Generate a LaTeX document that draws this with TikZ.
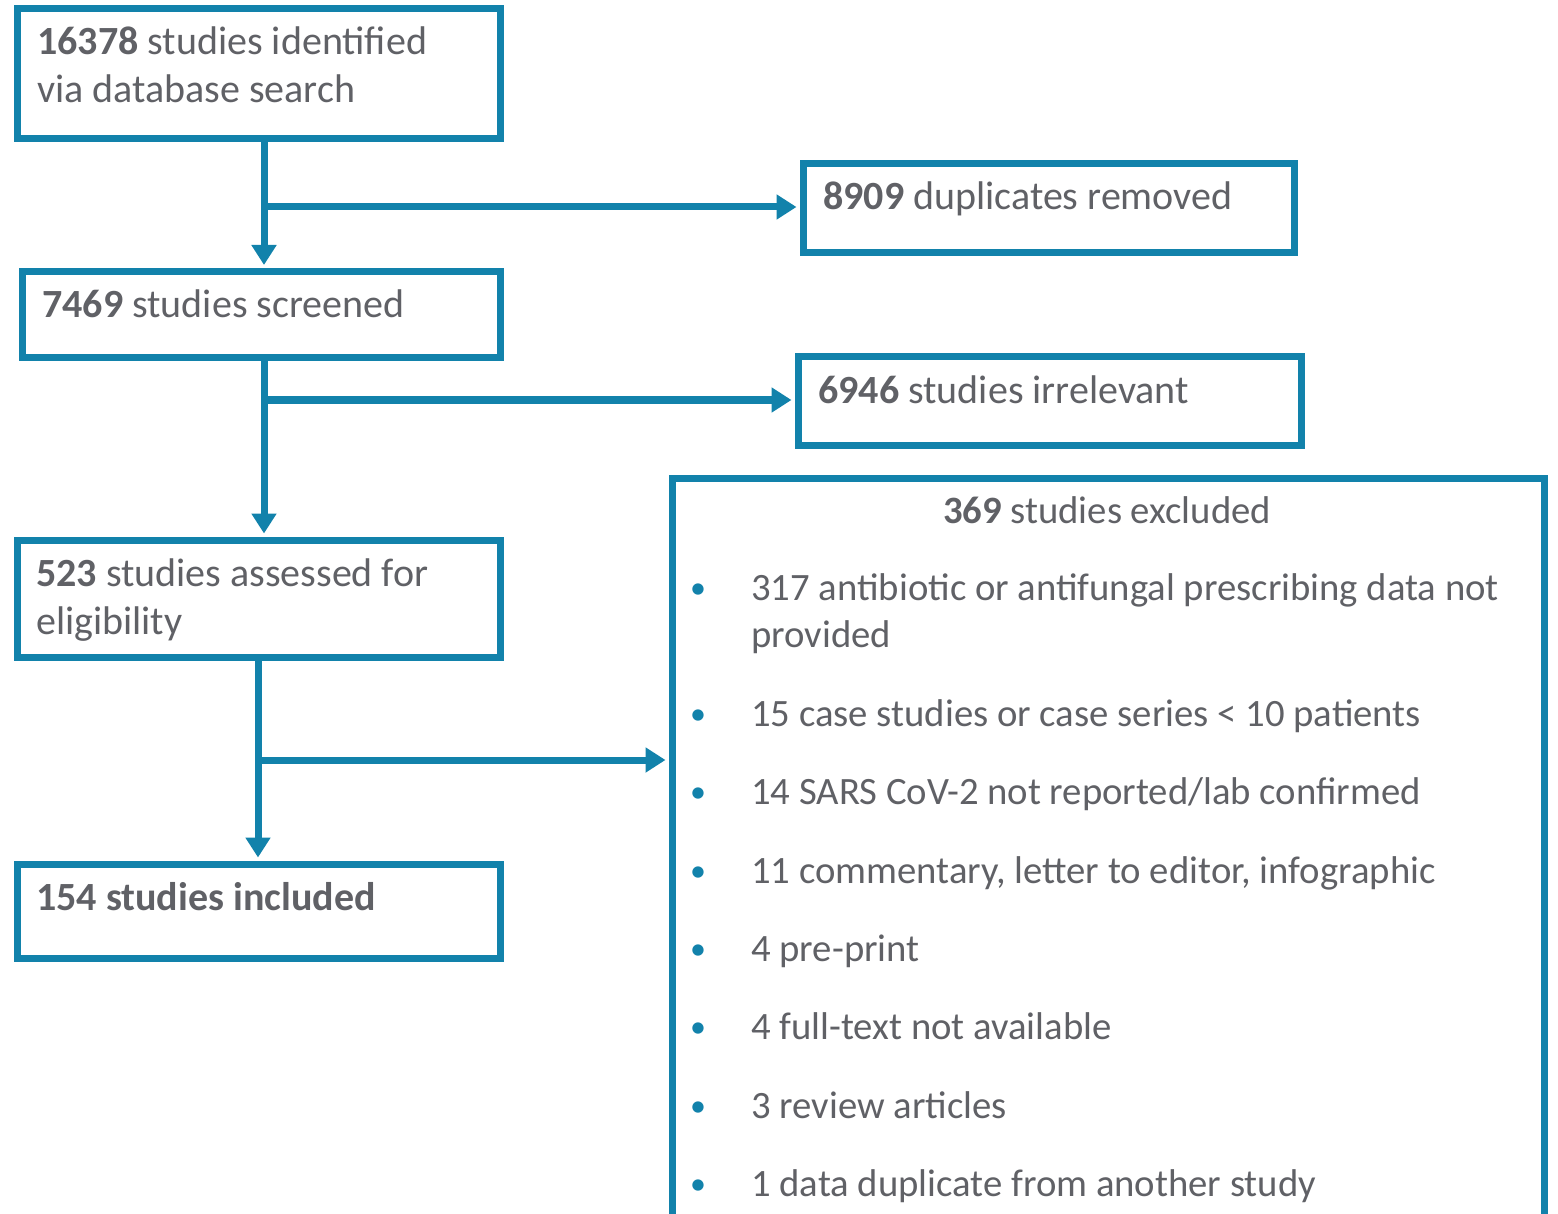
\documentclass[tikz,border=0pt]{standalone}
\usepackage{fontspec}
\setmainfont{Carlito}
\usetikzlibrary{arrows.meta}
\definecolor{flowblue}{HTML}{1282AB}
\definecolor{txtgray}{HTML}{606166}
\begin{document}
\begin{tikzpicture}[x=1pt,y=-1pt,
  box/.style={draw=flowblue, line width=7pt, inner sep=0pt, rectangle, fill=white},
  lbl/.style={anchor=base west, inner sep=0pt, text=txtgray, font=\fontsize{40}{48}\selectfont},
  item/.style={anchor=base west, inner sep=0pt, text=txtgray, font=\fontsize{38.7}{46}\selectfont},
  ctr/.style={anchor=base, inner sep=0pt, text=txtgray, font=\fontsize{38.7}{46}\selectfont},
  bul/.style={anchor=base, inner sep=0pt, text=flowblue, font=\fontsize{32}{38}\selectfont},
  arr/.style={draw=flowblue, line width=7pt, -{Triangle[length=20pt,width=24pt]}, shorten >=3pt}]
\useasboundingbox (0,0) rectangle (1558,1214);
\clip (0,0) rectangle (1558,1214);

% boxes
\node[box, minimum width=482.5pt, minimum height=130.5pt] (b1) at (258.75,73.75) {};
\node[box, minimum width=477.5pt, minimum height=86.5pt] (b2) at (261.25,314.75) {};
\node[box, minimum width=491pt, minimum height=89pt] (b3) at (1048.5,208.5) {};
\node[box, minimum width=503pt, minimum height=88pt] (b4) at (1049.5,401) {};
\node[box, minimum width=483pt, minimum height=117pt] (b5) at (258.5,598.5) {};
\node[box, minimum width=483pt, minimum height=94pt] (b6) at (258.5,911) {};
\node[box, minimum width=872pt, minimum height=740pt] (big) at (1108,848) {};

% junctions
\coordinate (j1) at (264,207);
\coordinate (j2) at (264,400);
\coordinate (j3) at (258,760);

% connectors
\draw[arr] (b1.south -| j1) -- (b2.north -| j1);
\draw[arr] (j1) -- (j1 -| b3.west);
\draw[arr] (b2.south -| j2) -- (b5.north -| j2);
\draw[arr] (j2) -- (j2 -| b4.west);
\draw[arr] (b5.south -| j3) -- (b6.north -| j3);
\draw[arr] (j3) -- (j3 -| big.west);

% texts
\node[lbl] (t1a) at (37,55) {\textbf{16378} studies identified};
\node[lbl] (t1b) at (37,103) {via database search};
\node[lbl] (t2) at (42,318) {\textbf{7469} studies screened};
\node[lbl] (t3) at (823,210) {\textbf{8909} duplicates removed};
\node[lbl] (t4) at (818,403) {\textbf{6946} studies irrelevant};
\node[lbl] (t5a) at (36,586) {\textbf{523} studies assessed for};
\node[lbl] (t5b) at (36,634) {eligibility};
\node[lbl] (t6) at (36,910) {\textbf{154 studies included}};

\node[ctr] (th) at (1107,523) {\textbf{369} studies excluded};

\node[bul] (u1) at (698,598) {•};
\node[item] (i1a) at (751,600) {317 antibiotic or antifungal prescribing data not};
\node[item] (i1b) at (751,647) {provided};
\node[bul] (u2) at (698,724) {•};
\node[item] (i2) at (751,726) {15 case studies or case series < 10 patients};
\node[bul] (u3) at (698,802) {•};
\node[item] (i3) at (751,804) {14 SARS CoV-2 not reported/lab confirmed};
\node[bul] (u4) at (698,881) {•};
\node[item] (i4) at (751,883) {11 commentary, letter to editor, infographic};
\node[bul] (u5) at (698,959) {•};
\node[item] (i5) at (751,961) {4 pre-print};
\node[bul] (u6) at (698,1037) {•};
\node[item] (i6) at (751,1039) {4 full-text not available};
\node[bul] (u7) at (698,1116) {•};
\node[item] (i7) at (751,1118) {3 review articles};
\node[bul] (u8) at (698,1194) {•};
\node[item] (i8) at (751,1196) {1 data duplicate from another study};
\end{tikzpicture}
\end{document}
